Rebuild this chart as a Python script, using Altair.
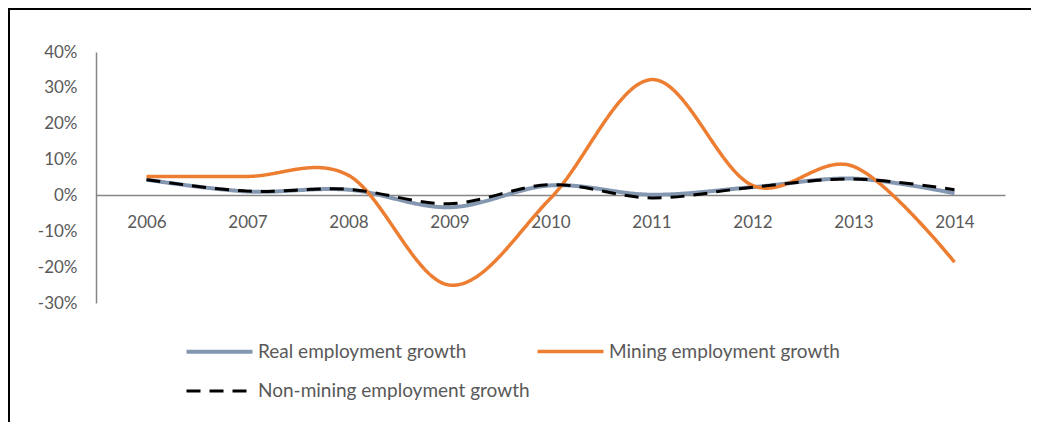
import altair as alt
import pandas as pd

years = ["2006", "2007", "2008", "2009", "2010", "2011", "2012", "2013", "2014"]
series_names = ["Real employment growth", "Mining employment growth", "Non-mining employment growth"]
real = [4.4, 1.1, 1.6, -3.3, 2.8, 0.2, 2.3, 4.7, 0.6]
mining = [5.3, 5.3, 5.6, -25.0, -0.8, 32.3, 2.8, 8.1, -18.6]
nonmining = [4.4, 1.2, 1.7, -2.3, 3.0, -0.7, 2.3, 4.6, 1.6]
y_ticks = [-30, -20, -10, 0, 10, 20, 30, 40]

colors = ["#8497B0", "#ED7D31", "#000000"]
dashes = [[1, 0], [1, 0], [14, 9]]
widths = [4, 3, 3.5]

rows = []
for name, vals in zip(series_names, [real, mining, nonmining]):
    for yr, v in zip(years, vals):
        rows.append({"year": yr, "value": v, "series": name})
df = pd.DataFrame(rows)

FONT = "Lato"
GRAY = "#595959"

# long horizontal stroke symbol: path in unit coords scaled by sqrt(size)/2
legend = alt.Legend(
    title=None, orient="none", legendX=113, legendY=289, columns=2,
    direction="horizontal", symbolType="M-4,0H4", symbolSize=272,
    labelFont=FONT, labelFontSize=19, labelColor=GRAY, labelOffset=28,
    columnPadding=0, rowPadding=19, padding=0, symbolStrokeWidth=3.5,
    labelLimit=400,
)

lines = alt.Chart(df).mark_line(interpolate="cardinal").encode(
    x=alt.X("year:O", sort=years,
            scale=alt.Scale(type="point", padding=0.5),
            axis=alt.Axis(title=None, orient="bottom", offset=-108, ticks=False,
                          domainColor="#868686", domainWidth=1.5, labelAngle=0,
                          labelFont=FONT, labelFontSize=17, labelColor=GRAY,
                          labelPadding=19, grid=False)),
    y=alt.Y("value:Q",
            scale=alt.Scale(domain=[-30, 40], nice=False, zero=False),
            axis=alt.Axis(title=None, values=y_ticks, labelExpr="datum.value + '%'",
                          ticks=False, grid=False, domainColor="#868686", domainWidth=1.5,
                          labelFont=FONT, labelFontSize=17, labelColor=GRAY,
                          labelPadding=19)),
    color=alt.Color("series:N", sort=series_names,
                    scale=alt.Scale(domain=series_names, range=colors),
                    legend=legend),
    strokeDash=alt.StrokeDash("series:N", sort=series_names,
                              scale=alt.Scale(domain=series_names, range=dashes),
                              legend=legend),
    strokeWidth=alt.StrokeWidth("series:N", sort=series_names,
                                scale=alt.Scale(domain=series_names, range=widths),
                                legend=legend),
    detail="series:N",
)

frame_df = pd.DataFrame({"k": [0]})
top_border = alt.Chart(frame_df).mark_rule(color="#000000", strokeWidth=2).encode(
    x=alt.value(-88), x2=alt.value(960), y=alt.value(-43)
)
left_border = alt.Chart(frame_df).mark_rule(color="#000000", strokeWidth=2).encode(
    x=alt.value(-87), y=alt.value(-44), y2=alt.value(400)
)

chart = alt.layer(lines, top_border, left_border).properties(
    width=909, height=251,
    background="white",
    autosize=alt.AutoSizeParams(type="none"),
    padding={"left": 88, "top": 44, "right": 26, "bottom": 119},
).configure_view(strokeWidth=0)

chart.save("out.html", embed_options={"renderer": "svg", "actions": False})
